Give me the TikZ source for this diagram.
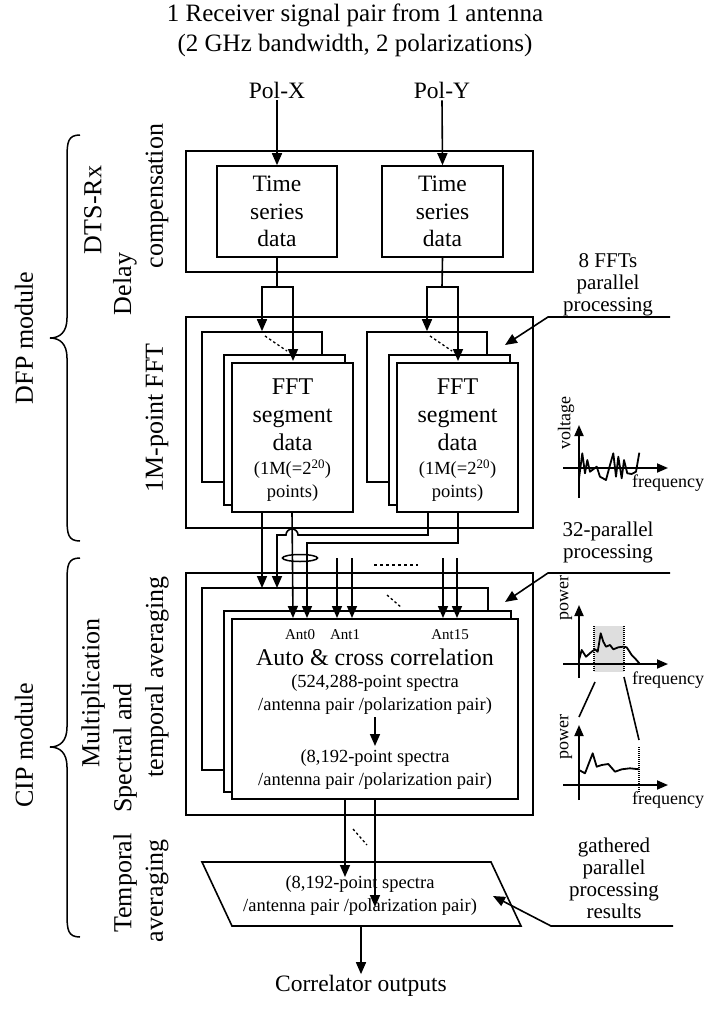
\documentclass[tikz,border=0pt]{standalone}
\usepackage{fontspec}
\setmainfont{Liberation Serif}
\usetikzlibrary{arrows.meta,calc,shapes.geometric}
\newcommand\ftTitle{\fontsize{25}{30}\selectfont}
\newcommand\ftBig{\fontsize{23.5}{27.5}\selectfont}
\newcommand\ftFFT{\fontsize{24}{28}\selectfont}
\newcommand\ftMid{\fontsize{21}{22}\selectfont}
\newcommand\ftSmall{\fontsize{18.5}{23}\selectfont}
\newcommand\ftAnt{\fontsize{15}{18}\selectfont}
\newcommand\ftRot{\fontsize{26}{32}\selectfont}
\newcommand\ftAxis{\fontsize{18}{20}\selectfont}
\begin{document}
\begin{tikzpicture}[x=1pt,y=-1pt,
  box/.style={draw,line width=1.6pt,fill=white,inner sep=0pt,align=center},
  ln/.style={line width=1.6pt},
  arr/.style={line width=1.6pt,-{Triangle[width=10pt,length=12pt]}},
  dsh/.style={line width=1.3pt,dash pattern=on 2.5pt off 2.5pt},
  dotv/.style={line width=1.3pt,dash pattern=on 1pt off 1pt},
  rot/.style={rotate=90,font=\ftRot,inner sep=0pt},
  lbl/.style={font=\ftMid,align=center,inner sep=0pt},
  axis/.style={line width=1.8pt,-{Triangle[width=9pt,length=11pt]}},
  curve/.style={line width=1.8pt,line join=round},
]
\useasboundingbox (0,0) rectangle (705,1012);

% title
\node[font=\ftTitle,align=center] (title) at (355,30) {1 Receiver signal pair from 1 antenna\\(2 GHz bandwidth, 2 polarizations)};

% ---------- DTS-Rx delay compensation
\node[font=\ftBig,inner sep=2pt] (polx) at (277,90) {Pol-X};
\node[font=\ftBig,inner sep=2pt] (poly) at (442,90) {Pol-Y};
\node[box,minimum width=347,minimum height=121] (dts) at (359.5,211.5) {};
\node[box,minimum width=120,minimum height=91,font=\ftBig] (ts1) at (277,211.5) {Time\\series\\data};
\node[box,minimum width=121,minimum height=91,font=\ftBig] (ts2) at (442.5,211.5) {Time\\series\\data};
\draw[arr] (polx.south) -- (ts1.north);
\draw[arr] (poly.south) -- (ts2.north);

% ---------- 1M-point FFT
\node[box,minimum width=347,minimum height=211] (fft) at (359.5,422.5) {};
\foreach \i/\dx in {1/0,2/165}{
  \node[box,minimum width=120,minimum height=150] (fa\i) at (262+\dx,407) {};
  \node[box,minimum width=121,minimum height=150] (fb\i) at (284.5+\dx,430) {};
  \node[box,minimum width=121,minimum height=149] (fc\i) at (292.5+\dx,437.5) {};
  \node[font=\ftFFT,align=center,inner sep=0pt] (fct\i) at (292.5+\dx,415) {FFT\\segment\\data};
  \node[font=\ftSmall,align=center,inner sep=0pt] (fcs\i) at (292.5+\dx,481) {(1M(=2\textsuperscript{20})\\points)};
  \coordinate (j\i) at (277+\dx,287);
  \coordinate (jl\i) at (262+\dx,287);
  \coordinate (jr\i) at (293+\dx,287);
  \coordinate (fin\i) at (293+\dx,361);
  \coordinate (dA\i) at (265+\dx,336);
  \coordinate (dB\i) at (287+\dx,351);
  \draw[dsh] (dA\i) -- (dB\i);
}
\draw[ln] (ts1.south) -- (j1);
\draw[ln] (ts2.south) -- (j2);
\draw[arr] (j1) -- (jl1) -- (fa1.north);
\draw[arr] (j1) -- (jr1) -- (fin1);
\draw[arr] (j2) -- (jl2) -- (fa2.north);
\draw[arr] (j2) -- (jr2) -- (fin2);

% pointer: 8 FFTs
\node[lbl] (p8) at (608,285) {8 FFTs\\parallel\\processing};
\coordinate (p8a) at (670,317);
\coordinate (p8b) at (548,317);
\coordinate (p8c) at (505,345);
\draw[arr] (p8a) -- (p8b) -- (p8c);

% voltage plot
\draw[axis] (579,498) -- (579,425);
\draw[axis] (563,468) -- (668,468);
\node[rotate=90,font=\ftAxis,inner sep=0pt] (vlab) at (566,423) {voltage};
\node[font=\ftAxis,anchor=west,inner sep=0pt] (vfr) at (632,483) {frequency};
\draw[curve] (579,478.3) -- (582.3,453.3) -- (585,473.3) -- (587.3,460) -- (590,471.7) -- (596.7,466.7) -- (600,476.7) -- (606,480) -- (610,465) -- (613.3,453.3) -- (616,476.7) -- (618.3,456.7) -- (621.7,478.3) -- (624,460) -- (627.3,473.3) -- (631.7,474) -- (636,471.7) -- (639.3,452.7);

% ---------- Multiplication / spectral and temporal averaging
\node[box,minimum width=347,minimum height=242] (cor) at (359.5,694) {};
\node[box,minimum width=286,minimum height=182] (ca) at (345,679) {};
\node[box,minimum width=287,minimum height=181] (cb) at (367.5,701.5) {};
\node[box,minimum width=286,minimum height=180] (cc) at (375,709) {};
\coordinate (cdA) at (387,595);
\coordinate (cdB) at (402,608);
\draw[dsh] (cdA) -- (cdB);

\node[font=\ftAnt,inner sep=0pt] (ant0) at (300,635) {Ant0};
\node[font=\ftAnt,inner sep=0pt] (ant1) at (345,635) {Ant1};
\node[font=\ftAnt,inner sep=0pt] (ant15) at (450,635) {Ant15};
\node[font=\ftFFT,inner sep=0pt] (acc) at (375,657) {Auto \& cross correlation};
\node[font=\ftSmall,align=center,inner sep=0pt] (s524) at (375,694.5) {(524,288-point spectra\\/antenna pair /polarization pair)};
\node[font=\ftSmall,align=center,inner sep=0pt] (s8k) at (375,770) {(8,192-point spectra\\/antenna pair /polarization pair)};
\coordinate (sA) at (375,717);
\coordinate (sB) at (375,746);
\draw[arr] (sA) -- (sB);

% routing FFT -> correlation
\coordinate (o11) at (262,512);
\coordinate (o12) at (292,512);
\coordinate (o21) at (428,512);
\coordinate (o22) at (458,512);
\coordinate (c1) at (262,588);
\coordinate (c2) at (277,588);
\coordinate (c3) at (293,618);
\coordinate (c4) at (307,618);
\draw[arr] (o11) -- (c1);
\draw[arr] (o12) -- (c3);
\draw[arr] (o21) -- (428,535) -- (298,535) arc (0:-180:6) -- (277,535) -- (c2);
\draw[arr] (o22) -- (458,543) -- (307,543) -- (c4);
\node[draw,ellipse,line width=1.5pt,minimum width=35,minimum height=7,inner sep=0pt] (ell) at (300,558) {};
\foreach \x/\n in {337/a,352/b,443/c,457/d}{
  \coordinate (t\n) at (\x,558);
  \coordinate (e\n) at (\x,618);
  \draw[arr] (t\n) -- (e\n);
}
\coordinate (dotsA) at (374,565);
\coordinate (dotsB) at (418,565);
\draw[line width=1.3pt,dash pattern=on 3pt off 3pt] (dotsA) -- (dotsB);

% pointer: 32-parallel
\node[lbl] (p32) at (608,542.5) {32-parallel\\processing};
\coordinate (p32a) at (670,573);
\coordinate (p32b) at (548,573);
\coordinate (p32c) at (505,602);
\draw[arr] (p32a) -- (p32b) -- (p32c);

% power plot 1
\fill[black!13] (594,626) rectangle (624,672);
\draw[dotv] (594,626) -- (594,672);
\draw[dotv] (624,626) -- (624,672);
\draw[axis] (579,678) -- (579,605);
\draw[axis] (563,664) -- (668,664);
\node[rotate=90,font=\ftAxis,inner sep=0pt] (pw1) at (566,598) {power};
\node[font=\ftAxis,anchor=west,inner sep=0pt] (fr1) at (632,680) {frequency};
\draw[curve] (579,660) -- (581.7,650) -- (586,656.7) -- (591.7,651.7) -- (595,649.3) -- (597.7,651.7) -- (600.7,633.3) -- (603.3,641.7) -- (606,646.7) -- (610,645) -- (613.3,649.3) -- (618.3,647.3) -- (623.3,646.7) -- (626.7,647.3) -- (631.7,655) -- (635,658.3) -- (639.3,663.3);
\coordinate (zA) at (595,682);
\coordinate (zB) at (579,717);
\coordinate (zC) at (624,677);
\coordinate (zD) at (639,740);
\draw[line width=1.6pt] (zA) -- (zB);
\draw[line width=1.6pt] (zC) -- (zD);

% power plot 2
\draw[axis] (579,800) -- (579,725);
\draw[axis] (563,785) -- (668,785);
\draw[dotv] (639,747) -- (639,793);
\node[rotate=90,font=\ftAxis,inner sep=0pt] (pw2) at (566,737) {power};
\node[font=\ftAxis,anchor=west,inner sep=0pt] (fr2) at (632,800) {frequency};
\draw[curve] (579,770) -- (585,773.3) -- (592.7,753.3) -- (596.7,766.7) -- (601.7,765) -- (608.3,764) -- (615,771.7) -- (621.7,769.3) -- (630,768.3) -- (639.3,769.3);

% ---------- temporal averaging
\coordinate (PA) at (202,862);
\coordinate (PB) at (491,862);
\coordinate (PC) at (521,926);
\coordinate (PD) at (232,926);
\draw[line width=1.6pt,fill=white] (PA) -- (PB) -- (PC) -- (PD) -- cycle;
\node[font=\ftSmall,align=center,inner sep=0pt] (tav) at (360,896) {(8,192-point spectra\\/antenna pair /polarization pair)};
\coordinate (q1) at (345,799);
\coordinate (q2) at (375,799);
\coordinate (q1e) at (345,877);
\coordinate (q2e) at (375,907);
\draw[arr] (q1) -- (q1e);
\draw[arr] (q2) -- (q2e);
\coordinate (qdA) at (353,829);
\coordinate (qdB) at (367,845);
\draw[dsh] (qdA) -- (qdB);

\node[lbl] (pg) at (614,878) {gathered\\parallel\\processing\\results};
\coordinate (pga) at (673,926);
\coordinate (pgb) at (551,926);
\coordinate (pgc) at (493,896);
\draw[arr] (pga) -- (pgb) -- (pgc);

\coordinate (outA) at (361,926);
\node[font=\ftBig,inner sep=1pt] (outs) at (361,986) {Correlator outputs};
\draw[arr] (outA) -- (outs.north);

% ---------- left labels and braces
\draw[line width=1.5pt] (80,135) .. controls (68,135) and (67,142) .. (67,158) -- (67,318) .. controls (67,332) and (60,338) .. (50,338) .. controls (60,338) and (67,344) .. (67,358) -- (67,518) .. controls (67,534) and (68,541) .. (80,541);
\draw[line width=1.5pt] (80,558) .. controls (68,558) and (67,565) .. (67,581) -- (67,727) .. controls (67,741) and (60,747) .. (50,747) .. controls (60,747) and (67,753) .. (67,767) -- (67,914) .. controls (67,930) and (68,937) .. (80,937);
\node[rot] (dfp) at (24,338) {DFP module};
\node[rot] (cip) at (24,745) {CIP module};
\node[rot] (l1) at (93,210) {DTS-Rx};
\node[rot] (l2) at (125,284) {Delay};
\node[rot] (l3) at (157,196) {compensation};
\node[rot] (l4) at (157,418) {1M-point FFT};
\node[rot] (l5) at (93,693) {Multiplication};
\node[rot] (l6) at (125,748) {Spectral and};
\node[rot] (l7) at (157,677) {temporal averaging};
\node[rot] (l8) at (125,883) {Temporal};
\node[rot] (l9) at (157,891) {averaging};
\end{tikzpicture}
\end{document}
